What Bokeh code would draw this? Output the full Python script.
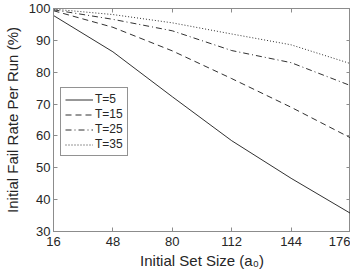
from bokeh.plotting import figure
from bokeh.models import LinearAxis, FixedTicker, Legend, LegendItem, Range1d
from bokeh.embed import file_html
from bokeh.resources import INLINE

set_size = [16, 48, 80, 112, 144, 176]
t5 = [97.8, 86.4, 72.3, 58.5, 46.7, 35.7]
t15 = [99.3, 94.1, 86.7, 78.0, 69.0, 59.4]
t25 = [99.6, 96.6, 93.0, 86.8, 83.0, 75.8]
t35 = [99.8, 98.1, 95.5, 92.0, 88.6, 82.7]
series_labels = ["T=5", "T=15", "T=25", "T=35"]
x_ticks = [16, 48, 80, 112, 144, 176]
y_ticks = [30, 40, 50, 60, 70, 80, 90, 100]

FONT = "Liberation Sans"
AX = "#262626"
BOX = "#8c8c8c"

p = figure(width=350, height=272, output_backend="svg", toolbar_location=None,
           x_range=Range1d(16, 176), y_range=Range1d(30, 100),
           min_border_left=46, min_border_right=0, min_border_top=8, min_border_bottom=41)
p.outline_line_color = BOX
p.outline_line_width = 1
p.grid.visible = False
p.background_fill_color = "white"
p.border_fill_color = "white"

def style_axis(ax):
    ax.major_tick_in = 4
    ax.major_tick_out = 0
    ax.minor_tick_in = 0
    ax.minor_tick_out = 0
    ax.axis_line_color = BOX
    ax.major_tick_line_color = BOX
    ax.major_label_text_font = FONT
    ax.major_label_text_font_size = "13px"
    ax.major_label_text_color = AX
    ax.axis_label_text_font = FONT
    ax.axis_label_text_font_size = "15px"
    ax.axis_label_text_font_style = "normal"
    ax.axis_label_text_color = AX

p.xaxis.ticker = FixedTicker(ticks=x_ticks)
p.yaxis.ticker = FixedTicker(ticks=y_ticks)
p.xaxis.axis_label = "Initial Set Size (a\u2080)"
p.yaxis.axis_label = "Initial Fail Rate Per Run (%)"
p.xaxis.major_label_standoff = 5
p.yaxis.major_label_standoff = 3
p.xaxis.axis_label_standoff = 3
p.yaxis.axis_label_standoff = 5
style_axis(p.xaxis[0])
style_axis(p.yaxis[0])

top = LinearAxis(ticker=FixedTicker(ticks=x_ticks))
right = LinearAxis(ticker=FixedTicker(ticks=y_ticks))
style_axis(top)
style_axis(right)
top.major_label_overrides = {t: "" for t in x_ticks}
right.major_label_overrides = {t: "" for t in y_ticks}
top.major_label_standoff = 0
right.major_label_standoff = 0
p.add_layout(top, "above")
p.add_layout(right, "right")

col = "#1a1a1a"
r1 = p.line(set_size, t5, line_color=col, line_width=0.9)
r2 = p.line(set_size, t15, line_color=col, line_width=0.9, line_dash="6 4")
r3 = p.line(set_size, t25, line_color=col, line_width=0.9, line_dash="6 3 1 3")
r4 = p.line(set_size, t35, line_color=col, line_width=0.9, line_dash="1 2")

legend = Legend(items=[LegendItem(label=l, renderers=[r]) for l, r in zip(series_labels, [r1, r2, r3, r4])],
                location=(7, 75))
legend.label_text_font = FONT
legend.label_text_font_size = "12px"
legend.label_text_color = AX
legend.glyph_width = 28
legend.glyph_height = 13
legend.label_height = 13
legend.label_standoff = 2
legend.spacing = 1
legend.padding = 4
legend.margin = 0
legend.border_line_color = AX
legend.border_line_width = 0.8
legend.background_fill_alpha = 1
p.add_layout(legend, "center")

open("out.html", "w").write(file_html(p, INLINE))
